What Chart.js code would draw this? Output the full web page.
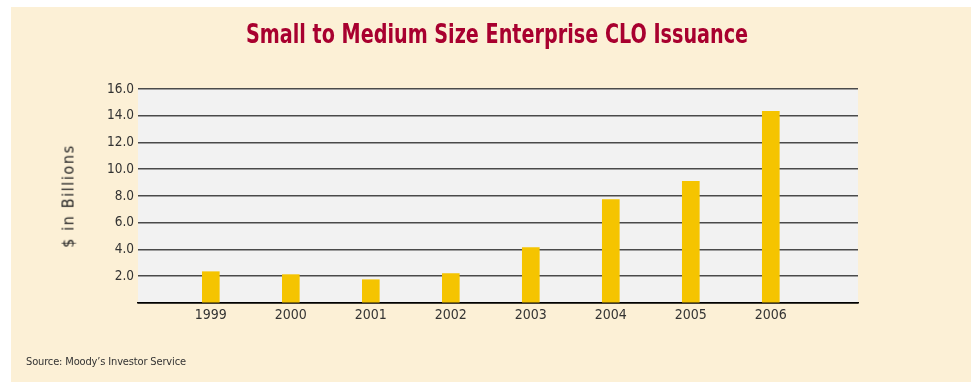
<!DOCTYPE html>
<html>
<head>
<meta charset="utf-8">
<script src="https://cdn.jsdelivr.net/npm/chart.js@4/dist/chart.umd.min.js"></script>
<style>
  html, body { margin: 0; padding: 0; background: #ffffff; }
  #bg { position: absolute; left: 11px; top: 7px; width: 960px; height: 375px; background: #fcf0d6; }
  #panel { position: absolute; left: 8px; top: 8px; width: 960px; height: 370px; }
  #wrap { position: absolute; left: 0; top: 0; width: 960px; height: 370px; }
  #title { position: absolute; left: 0; top: 10px; width: 978px; text-align: center; font-family: "DejaVu Sans Condensed", sans-serif; font-weight: bold; font-size: 27px; color: #a8002f; transform: scaleX(0.79); transform-origin: 489px 0; white-space: nowrap; }
  #ytitle { position: absolute; left: 60px; top: 188px; transform: translate(-50%, -50%) rotate(-90deg); font-family: "DejaVu Sans Condensed", sans-serif; font-size: 16px; letter-spacing: 1.6px; color: #222; white-space: nowrap; }
  #source { position: absolute; left: 18px; top: 347px; font-family: "DejaVu Sans Condensed", sans-serif; font-size: 11px; letter-spacing: -0.15px; color: #333; white-space: nowrap; }
</style>
</head>
<body>
<div id="bg"></div>
<div id="panel">
  <div id="wrap"><canvas id="c"></canvas></div>
  <div id="title">Small to Medium Size Enterprise CLO Issuance</div>
  <div id="ytitle">$ in Billions</div>
  <div id="source">Source: Moody’s Investor Service</div>
</div>
<script>
const years = [1999, 2000, 2001, 2002, 2003, 2004, 2005, 2006];
const issuance = [2.34, 2.12, 1.74, 2.2, 4.14, 7.74, 9.09, 14.33];
const yTicks = [0, 2, 4, 6, 8, 10, 12, 14, 16];

const FONT = '"DejaVu Sans Condensed", sans-serif';

const plotBg = {
  id: 'plotBg',
  beforeDraw(chart) {
    const a = chart.chartArea, ctx = chart.ctx;
    ctx.save();
    ctx.fillStyle = '#f2f2f2';
    ctx.fillRect(a.left, a.top, a.right - a.left, a.bottom - a.top);
    ctx.restore();
  }
};

new Chart(document.getElementById('c'), {
  type: 'bar',
  data: {
    datasets: [{
      data: years.map((y, i) => ({ x: y, y: issuance[i] })),
      backgroundColor: '#f5c400',
      borderWidth: 0,
      barThickness: 17
    }]
  },
  options: {
    responsive: true,
    maintainAspectRatio: false,
    animation: false,
    layout: { padding: { left: 46, right: 110, top: 81, bottom: 45 } },
    plugins: {
      legend: { display: false },
      tooltip: { enabled: false },
      title: { display: false }
    },
    scales: {
      x: {
        type: 'linear',
        offset: false,
        min: 1998.09,
        max: 2007.09,
        afterBuildTicks: s => { s.ticks = years.map(v => ({ value: v })); },
        afterFit: s => { s.height = 30; },
        grid: { display: false, drawTicks: false },
        border: { display: true, color: '#000', width: 1.5 },
        ticks: {
          color: '#333',
          padding: 4,
          maxRotation: 0,
          autoSkip: false,
          font: { family: FONT, size: 14 },
          callback: v => String(v)
        }
      },
      y: {
        min: 0,
        max: 16,
        afterBuildTicks: s => { s.ticks = yTicks.map(v => ({ value: v })); },
        afterFit: s => { s.width = 84; },
        border: { display: false },
        grid: {
          drawTicks: false,
          color: ctx => ctx.tick && ctx.tick.value === 0 ? '#000' : '#4a4a4a',
          lineWidth: 1.6
        },
        ticks: {
          color: '#333',
          padding: 4,
          font: { family: FONT, size: 13.5 },
          callback: v => v === 0 ? '' : v.toFixed(1)
        }
      }
    }
  },
  plugins: [plotBg]
});
</script>
</body>
</html>
